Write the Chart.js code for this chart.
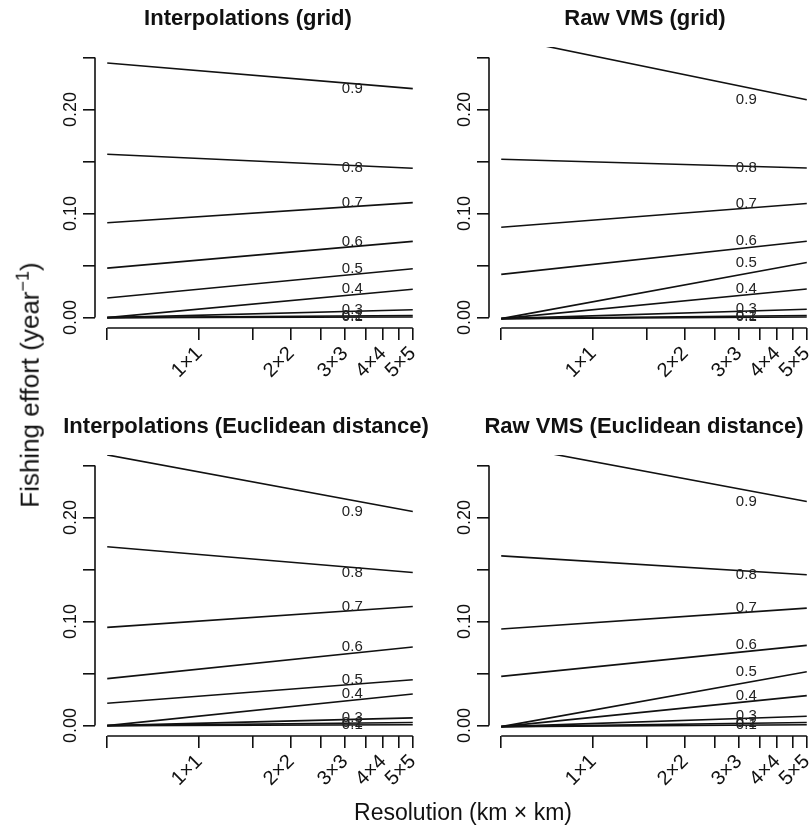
<!DOCTYPE html>
<html>
<head>
<meta charset="utf-8">
<title>Fishing effort by resolution</title>
<script src="https://cdn.jsdelivr.net/npm/chart.js@4.4.1/dist/chart.umd.min.js"></script>
<style>
  body { margin: 0; background: #fff; }
  #fig { position: relative; width: 811px; height: 828px; overflow: hidden;
         font-family: "Liberation Sans", Arial, sans-serif; color: #111; }
  #fig canvas { position: absolute; }
  .ylab { position: absolute; left: 29px; top: 385px; white-space: nowrap; font-size: 26px;
          transform: translate(-50%, -50%) rotate(-90deg); }
  .ylab sup { font-size: 18px; }
  .xlab { position: absolute; left: 463px; top: 812px; white-space: nowrap; font-size: 23px;
          transform: translate(-50%, -50%); }
</style>
</head>
<body>
<div id="fig">
  <canvas id="c1" width="496" height="398" style="left:0px;top:0px"></canvas>
  <canvas id="c2" width="502" height="398" style="left:394px;top:0px"></canvas>
  <canvas id="c3" width="492" height="398" style="left:0px;top:408px"></canvas>
  <canvas id="c4" width="500" height="398" style="left:394px;top:408px"></canvas>
  <div class="ylab">Fishing effort (year<sup>−1</sup>)</div>
  <div class="xlab">Resolution (km × km)</div>
</div>
<script>
// quantile levels, one fitted line each
var quantiles = ['0.1', '0.2', '0.3', '0.4', '0.5', '0.6', '0.7', '0.8', '0.9'];
// lines run from 0.5 km to 5 km resolution
var resEnds = [0.5, 5];

// effort at the two ends, per quantile
var interpGridStart = [0.0000, 0.0000, 0.0000, 0.0000, 0.0188, 0.0475, 0.0912, 0.1570, 0.2447];
var interpGridEnd   = [0.0005, 0.0020, 0.0075, 0.0272, 0.0470, 0.0732, 0.1105, 0.1435, 0.2200];
var rawGridStart    = [-0.001, -0.001, -0.001, -0.001, -0.001, 0.0415, 0.0868, 0.1522, 0.2696];
var rawGridEnd      = [0.0005, 0.0020, 0.0080, 0.0275, 0.0529, 0.0734, 0.1097, 0.1438, 0.2093];
var interpEucStart  = [0.0000, 0.0000, 0.0000, 0.0000, 0.0214, 0.0451, 0.0944, 0.1718, 0.2601];
var interpEucEnd    = [0.0008, 0.0030, 0.0074, 0.0304, 0.0441, 0.0755, 0.1145, 0.1471, 0.2057];
var rawEucStart     = [-0.001, -0.001, -0.001, -0.001, -0.001, 0.0473, 0.0928, 0.1631, 0.2702];
var rawEucEnd       = [0.0008, 0.0030, 0.0090, 0.0288, 0.0518, 0.0771, 0.1129, 0.1449, 0.2153];

var xTickValues = [0.5, 1, 1.5, 2, 2.5, 3, 3.5, 4, 4.5, 5];
var xTickLabels = ['', '1×1', '', '2×2', '', '3×3', '', '4×4', '', '5×5'];
var yTickValues = [0, 0.05, 0.10, 0.15, 0.20, 0.25];
var yTickLabels = ['0.00', '', '0.10', '', '0.20', ''];

var labelRes = 3.17; // where the quantile labels sit on the x axis
var font = '"Liberation Sans", Arial, sans-serif';
var ink = '#111';

// R style axes: line only from first to last tick
var rAxes = {
  id: 'rAxes',
  afterDraw: function (chart) {
    var ctx = chart.ctx, xs = chart.scales.x, ys = chart.scales.y, area = chart.chartArea;
    ctx.save();
    ctx.strokeStyle = ink;
    ctx.lineWidth = 1.6;
    ctx.beginPath();
    ctx.moveTo(xs.getPixelForValue(xTickValues[0]), area.bottom);
    ctx.lineTo(xs.getPixelForValue(xTickValues[xTickValues.length - 1]), area.bottom);
    ctx.moveTo(area.left, ys.getPixelForValue(yTickValues[0]));
    ctx.lineTo(area.left, ys.getPixelForValue(yTickValues[yTickValues.length - 1]));
    ctx.stroke();
    ctx.restore();
  }
};

// quantile label placed at the line's right-end value
var quantileLabels = {
  id: 'quantileLabels',
  afterDatasetsDraw: function (chart) {
    var ctx = chart.ctx, xs = chart.scales.x, ys = chart.scales.y;
    ctx.save();
    ctx.font = '15px ' + font;
    ctx.fillStyle = '#222';
    ctx.textAlign = 'center';
    ctx.textBaseline = 'middle';
    chart.data.datasets.forEach(function (ds) {
      var last = ds.data[ds.data.length - 1];
      ctx.fillText(ds.label, xs.getPixelForValue(labelRes), ys.getPixelForValue(last.y));
    });
    ctx.restore();
  }
};

function makePanel(id, title, startVals, endVals) {
  var canvas = document.getElementById(id);
  var datasets = quantiles.map(function (q, i) {
    return {
      label: q,
      data: [{ x: resEnds[0], y: startVals[i] }, { x: resEnds[1], y: endVals[i] }],
      borderColor: ink,
      borderWidth: 1.6,
      pointRadius: 0,
      tension: 0,
      fill: false
    };
  });

  return new Chart(canvas, {
    type: 'line',
    data: { datasets: datasets },
    options: {
      responsive: false,
      animation: false,
      layout: { padding: 0 },
      plugins: {
        legend: { display: false },
        tooltip: { enabled: false },
        title: {
          display: true,
          text: title,
          color: ink,
          font: { family: font, size: 22, weight: 'bold' },
          padding: { top: 6, bottom: 14.6 }
        }
      },
      scales: {
        x: {
          type: 'logarithmic',
          min: 0.456,
          max: 5.483,
          afterBuildTicks: function (scale) {
            scale.ticks = xTickValues.map(function (v) { return { value: v }; });
          },
          afterFit: function (scale) { scale.height = 70; },
          border: { display: false },
          grid: { drawOnChartArea: false, tickLength: 12, color: ink, lineWidth: 1.6 },
          ticks: {
            autoSkip: false,
            minRotation: 45,
            maxRotation: 45,
            padding: 2,
            color: ink,
            font: { family: font, size: 20 },
            callback: function (v, i) { return xTickLabels[i]; }
          }
        },
        y: {
          min: -0.01,
          max: 0.26,
          afterBuildTicks: function (scale) {
            scale.ticks = yTickValues.map(function (v) { return { value: v }; });
          },
          afterFit: function (scale) { scale.width = 95; },
          border: { display: false },
          grid: { drawOnChartArea: false, tickLength: 12, color: ink, lineWidth: 1.6 },
          ticks: {
            autoSkip: false,
            minRotation: 90,
            maxRotation: 90,
            crossAlign: 'center',
            padding: -6,
            color: ink,
            font: { family: font, size: 18 },
            callback: function (v, i) { return yTickLabels[i]; }
          }
        },
        // empty right margin so the title centres over the whole panel
        yPad: {
          position: 'right',
          display: true,
          border: { display: false },
          grid: { display: false },
          ticks: { display: false },
          afterFit: function (scale) { scale.width = canvas.width - 425; }
        }
      }
    },
    plugins: [rAxes, quantileLabels]
  });
}

makePanel('c1', 'Interpolations (grid)', interpGridStart, interpGridEnd);
makePanel('c2', 'Raw VMS (grid)', rawGridStart, rawGridEnd);
makePanel('c3', 'Interpolations (Euclidean distance)', interpEucStart, interpEucEnd);
makePanel('c4', 'Raw VMS (Euclidean distance)', rawEucStart, rawEucEnd);
</script>
</body>
</html>
